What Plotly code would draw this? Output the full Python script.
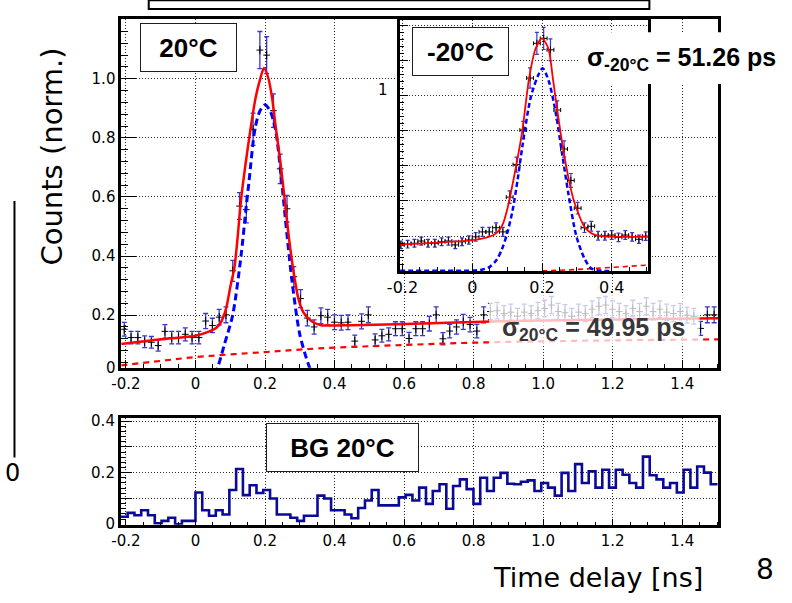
import numpy as np
import plotly.graph_objects as go

W, H = 792, 603


def px(x):
    return x / W


def py(y):
    return 1 - y / H


BIN_W = 0.0195  # ns, histogram bin width

# ---------------- main histogram (20 C), bins k = -11 .. 76 -----------------
main_bin_index = list(range(-11, 77))
main_counts = [
    0.152, 0.124, 0.124, 0.11, 0.108, 0.097, 0.145, 0.124, 0.124, 0.135, 0.124,
    0.124, 0.18, 0.165, 0.193, 0.201, 0.35, 0.569, 0.557, 0.829, 1.097, 1.08,
    0.892, 0.695, 0.56, 0.33, 0.256, 0.19,
    0.16, 0.198, 0.193, 0.176, 0.174, 0.176, 0.112, 0.179, 0.201, 0.116, 0.13,
    0.135, 0.154, 0.154, 0.121, 0.154, 0.154, 0.171, 0.201, 0.12, 0.146, 0.16,
    0.177, 0.168, 0.146, 0.201,
    0.212, 0.215, 0.205, 0.21, 0.196, 0.21, 0.205, 0.215, 0.222, 0.234, 0.212,
    0.208, 0.196, 0.21, 0.205, 0.22, 0.23, 0.234, 0.22, 0.212, 0.205, 0.222,
    0.212, 0.23, 0.212, 0.22, 0.21, 0.205, 0.212, 0.2, 0.196,
    0.155, 0.201, 0.201,
]

main_fit_x = [-0.2136, -0.1, 0.0, 0.04, 0.06, 0.075, 0.088, 0.101, 0.112, 0.121,
              0.131, 0.145, 0.159, 0.172, 0.184, 0.197, 0.21, 0.221, 0.231, 0.244,
              0.256, 0.268, 0.281, 0.296, 0.31, 0.324, 0.34, 0.362, 0.45, 0.7, 0.9,
              1.2, 1.5035]
main_fit_y = [0.102, 0.118, 0.13, 0.145, 0.157, 0.18, 0.222, 0.30, 0.36, 0.46,
              0.59, 0.72, 0.835, 0.93, 0.99, 1.036, 1.0, 0.93, 0.835, 0.72,
              0.598, 0.47, 0.355, 0.256, 0.21, 0.19, 0.175, 0.166, 0.166, 0.173,
              0.18, 0.185, 0.189]

main_gaus_x = [0.055, 0.064, 0.083, 0.107, 0.131, 0.145, 0.154, 0.171, 0.185, 0.2,
               0.215, 0.23, 0.248, 0.256, 0.277, 0.30, 0.324, 0.333, 0.34]
main_gaus_y = [0.0, 0.023, 0.10, 0.20, 0.40, 0.557, 0.652, 0.829, 0.89, 0.912,
               0.89, 0.829, 0.652, 0.557, 0.322, 0.135, 0.036, 0.01, 0.0]

main_bkg_x = [-0.2136, -0.1, 0.0, 0.2, 0.35, 0.6, 0.84, 1.1, 1.5035]
main_bkg_y = [0.03, 0.045, 0.058, 0.075, 0.087, 0.099, 0.108, 0.113, 0.118]

# ---------------- inset histogram (-20 C), bins k = -11 .. 25 ----------------
inset_bin_index = list(range(-11, 26))
inset_counts = [
    0.15, 0.154, 0.159, 0.172, 0.159, 0.159, 0.168, 0.172, 0.15, 0.168, 0.178,
    0.196, 0.224, 0.224, 0.248, 0.224, 0.422, 0.607, 0.804, 1.10, 1.298,
    1.326, 1.261, 0.918, 0.696, 0.517, 0.359, 0.248, 0.256, 0.202, 0.202,
    0.206, 0.193, 0.206, 0.196, 0.182, 0.2,
]
inset_fit_x = [-0.207, -0.1, 0.0, 0.04, 0.06, 0.075, 0.088, 0.1, 0.11, 0.128, 0.144,
               0.163, 0.182, 0.2, 0.218, 0.232, 0.245, 0.259, 0.276, 0.29, 0.304,
               0.318, 0.332, 0.35, 0.38, 0.505]
inset_fit_y = [0.152, 0.163, 0.177, 0.192, 0.205, 0.228, 0.27, 0.35, 0.44, 0.622,
               0.807, 1.10, 1.27, 1.326, 1.27, 1.085, 0.9, 0.715, 0.53, 0.41, 0.33,
               0.265, 0.23, 0.208, 0.198, 0.196]
inset_gaus_x = [-0.207, 0.0, 0.03, 0.05, 0.07, 0.085, 0.1, 0.115, 0.13, 0.144, 0.168,
                0.19, 0.202, 0.219, 0.238, 0.257, 0.276, 0.299, 0.323, 0.342, 0.37, 0.4]
inset_gaus_y = [0.003, 0.004, 0.01, 0.025, 0.065, 0.125, 0.215, 0.34, 0.52, 0.715,
                0.993, 1.12, 1.156, 1.085, 0.918, 0.678, 0.437, 0.196, 0.067, 0.015,
                0.003, 0.002]
inset_bkg_x = [0.2, 0.3, 0.4, 0.505]
inset_bkg_y = [0.002, 0.01, 0.022, 0.035]

# ---------------- background histogram (BG 20 C), bins k = -11 .. 76 ---------
bg_bin_index = list(range(-11, 77))
bg_counts = [
    0.029, 0.044, 0.035, 0.054, 0.035, 0.004, 0.013, 0.025, 0.0, 0.013, 0.013,
    0.123, 0.054, 0.033, 0.054, 0.038, 0.133, 0.214, 0.113, 0.151, 0.121,
    0.133, 0.1, 0.038, 0.038, 0.025, 0.013, 0.033, 0.033, 0.111, 0.1,
    0.054, 0.054, 0.038, 0.023, 0.063, 0.092, 0.133, 0.073, 0.073, 0.073,
    0.104, 0.114, 0.092, 0.142, 0.079, 0.129, 0.155, 0.06, 0.148, 0.174,
    0.136, 0.079, 0.18, 0.129, 0.18, 0.199, 0.157, 0.155, 0.165, 0.17,
    0.129, 0.16, 0.142, 0.111, 0.199, 0.129, 0.233, 0.16, 0.205, 0.142,
    0.211, 0.142, 0.211, 0.192, 0.16, 0.142, 0.262, 0.19, 0.174, 0.142,
    0.16, 0.123, 0.211, 0.142, 0.224, 0.2, 0.155,
]

main_x_ticks = [-0.2, 0.0, 0.2, 0.4, 0.6, 0.8, 1.0, 1.2, 1.4]
main_x_labels = ["-0.2", "0", "0.2", "0.4", "0.6", "0.8", "1.0", "1.2", "1.4"]
inset_x_ticks = [-0.2, 0.0, 0.2, 0.4]
inset_x_labels = ["-0.2", "0", "0.2", "0.4"]

# ---------------------------------------------------------------------------
main_centers = (np.array(main_bin_index) + 0.5) * BIN_W
inset_centers = (np.array(inset_bin_index) + 0.5) * BIN_W
bg_edges = np.append(np.array(bg_bin_index), bg_bin_index[-1] + 1) * BIN_W
bg_step_y = bg_counts + [bg_counts[-1]]

main_err = 0.06 * np.sqrt(np.array(main_counts))
inset_err = 0.055 * np.sqrt(np.array(inset_counts))

ERR_BLUE = "rgb(55,55,200)"
GRID = "rgb(40,40,40)"
TICKFONT = dict(family="DejaVu Sans", size=15, color="black")

fig = go.Figure()

# main
fig.add_trace(go.Scatter(
    x=main_centers, y=main_counts, mode="markers", xaxis="x", yaxis="y",
    marker=dict(symbol="line-ns", size=6, color="black", line=dict(color="black", width=1)),
    error_y=dict(type="data", array=main_err, color=ERR_BLUE, thickness=1.3, width=2.5),
    error_x=dict(type="constant", value=BIN_W / 2, color="black", thickness=1, width=0),
))
fig.add_trace(go.Scatter(x=main_bkg_x, y=main_bkg_y, mode="lines", xaxis="x", yaxis="y",
                         line=dict(color="red", width=2.2, dash="6px,5px", shape="spline")))
fig.add_trace(go.Scatter(x=main_gaus_x, y=main_gaus_y, mode="lines", xaxis="x", yaxis="y",
                         line=dict(color="rgb(0,0,255)", width=3, dash="7px,4px",
                                   shape="spline", smoothing=0.8)))
fig.add_trace(go.Scatter(x=main_fit_x, y=main_fit_y, mode="lines", xaxis="x", yaxis="y",
                         line=dict(color="red", width=2.5, shape="spline", smoothing=0.7)))

# inset
fig.add_trace(go.Scatter(
    x=inset_centers, y=inset_counts, mode="markers", xaxis="x2", yaxis="y2",
    marker=dict(symbol="line-ns", size=5, color="black", line=dict(color="black", width=1)),
    error_y=dict(type="data", array=inset_err, color=ERR_BLUE, thickness=1.2, width=2),
    error_x=dict(type="constant", value=BIN_W / 2, color="black", thickness=1, width=2),
))
fig.add_trace(go.Scatter(x=inset_bkg_x, y=inset_bkg_y, mode="lines", xaxis="x2", yaxis="y2",
                         line=dict(color="red", width=1.6, dash="5px,4px", shape="spline")))
fig.add_trace(go.Scatter(x=inset_gaus_x, y=inset_gaus_y, mode="lines", xaxis="x2", yaxis="y2",
                         line=dict(color="rgb(0,0,255)", width=2.5, dash="5px,3px",
                                   shape="spline", smoothing=0.8)))
fig.add_trace(go.Scatter(x=inset_fit_x, y=inset_fit_y, mode="lines", xaxis="x2", yaxis="y2",
                         line=dict(color="red", width=1.8, shape="spline", smoothing=0.7)))

# BG histogram
fig.add_trace(go.Scatter(x=bg_edges, y=bg_step_y, mode="lines", xaxis="x3", yaxis="y3",
                         line=dict(color="rgb(10,10,150)", width=2.6, shape="hv")))


def frame_axis(**kw):
    d = dict(showline=True, linewidth=2.5, linecolor="black", mirror=True, zeroline=False,
             ticks="inside", tickcolor="black", tickwidth=1, showgrid=True,
             gridcolor=GRID, griddash="1px,2px", gridwidth=1, tickfont=TICKFONT)
    d.update(kw)
    return d


fig.update_layout(
    width=W, height=H, margin=dict(l=0, r=0, t=0, b=0),
    paper_bgcolor="white", plot_bgcolor="white", showlegend=False,
    xaxis=frame_axis(domain=[px(110), px(717)], range=[-0.2136, 1.5035], anchor="y",
                     tickmode="array", tickvals=main_x_ticks, ticktext=main_x_labels,
                     ticklen=8,
                     minor=dict(tickmode="linear", tick0=0, dtick=0.05, ticks="inside",
                                ticklen=4, tickcolor="black", showgrid=False)),
    yaxis=frame_axis(domain=[py(371), py(13)], range=[0.0218, 1.2033], anchor="x",
                     tickmode="array", tickvals=[0.0218, 0.2, 0.4, 0.6, 0.8, 1.0],
                     ticktext=["0", "0.2", "0.4", "0.6", "0.8", "1.0"], ticklen=15,
                     minor=dict(tickmode="linear", tick0=0, dtick=0.04, ticks="inside",
                                ticklen=7, tickcolor="black", showgrid=False)),
    xaxis2=frame_axis(domain=[px(393.5), px(646)], range=[-0.207, 0.505], anchor="y2",
                      tickmode="array", tickvals=inset_x_ticks, ticktext=inset_x_labels,
                      ticklen=7, tickfont=dict(family="DejaVu Sans", size=16, color="black"),
                      minor=dict(tickmode="linear", tick0=0, dtick=0.05, ticks="inside",
                                 ticklen=4, tickcolor="black", showgrid=False)),
    yaxis2=frame_axis(domain=[py(272), py(14.5)], range=[0, 1.43], anchor="x2",
                      tickmode="linear", tick0=0, dtick=0.2, ticklen=8,
                      showticklabels=False,
                      minor=dict(tickmode="linear", tick0=0, dtick=0.04, ticks="inside",
                                 ticklen=4, tickcolor="black", showgrid=False)),
    xaxis3=frame_axis(domain=[px(109.5), px(717)], range=[-0.215, 1.5035], anchor="y3",
                      tickmode="array", tickvals=main_x_ticks, ticktext=main_x_labels,
                      ticklen=6,
                      minor=dict(tickmode="linear", tick0=0, dtick=0.05, ticks="inside",
                                 ticklen=3, tickcolor="black", showgrid=False)),
    yaxis3=frame_axis(domain=[py(532), py(423)], range=[-0.002, 0.41], anchor="x3",
                      tickmode="array", tickvals=[0, 0.1, 0.2, 0.3, 0.4],
                      ticktext=["0", "", "0.2", "", "0.4"], ticklen=12,
                      minor=dict(tickmode="linear", tick0=0, dtick=0.02, ticks="inside",
                                 ticklen=6, tickcolor="black", showgrid=False)),
)

shapes = [
    # leftover slide frames
    dict(type="rect", xref="paper", yref="paper", x0=px(138), x1=px(647), y0=py(3), y1=py(-6),
         line=dict(color="black", width=2), fillcolor="rgba(0,0,0,0)", layer="above"),
    dict(type="line", xref="paper", yref="paper", x0=px(1.5), x1=px(1.5), y0=py(463), y1=py(200),
         line=dict(color="black", width=2), layer="above"),
    # white label box for sigma(-20C)
    dict(type="rect", xref="paper", yref="paper", x0=px(575), x1=px(795), y0=py(80), y1=py(27),
         line=dict(width=0), fillcolor="white", layer="above"),
    # semi-transparent box for sigma(20C)
    dict(type="rect", xref="paper", yref="paper", x0=px(484), x1=px(698), y0=py(348), y1=py(296),
         line=dict(width=0), fillcolor="rgba(255,255,255,0.74)", layer="above"),
]
fig.update_layout(shapes=shapes)

BOLD = dict(family="Liberation Sans", size=26, color="black")
ann = [
    dict(text="Counts (norm.)", x=px(40), y=py(154), textangle=-90,
         font=dict(family="DejaVu Sans", size=29, color="black")),
    dict(text="Time delay [ns]", x=px(595), y=py(586),
         font=dict(family="DejaVu Sans", size=27, color="black")),
    dict(text="8", x=px(765), y=py(578), font=dict(family="DejaVu Sans", size=28, color="black")),
    dict(text="<b>20°C</b>", x=px(178.5), y=py(42.5), width=95, height=47, borderpad=0,
         bgcolor="white", bordercolor="rgb(30,30,30)", borderwidth=1, font=BOLD),
    dict(text="<b>-20°C</b>", x=px(454.5), y=py(46.5), width=95, height=47, borderpad=0,
         bgcolor="white", bordercolor="rgb(30,30,30)", borderwidth=1, font=BOLD),
    dict(text="<b>BG 20°C</b>", x=px(335.5), y=py(452.5), width=151, height=47, borderpad=0,
         bgcolor="white", bordercolor="rgb(30,30,30)", borderwidth=1, font=BOLD),
    dict(text="<b>σ<sub>-20°C</sub> = 51.26 ps</b>", x=px(680), y=py(54),
         font=dict(family="Liberation Sans", size=25, color="black")),
    dict(text="<b>σ<sub>20°C</sub> = 49.95 ps</b>", x=px(590), y=py(331),
         font=dict(family="Liberation Sans", size=25, color="rgb(55,55,55)")),
    dict(text="1", x=px(376), y=py(86), font=TICKFONT),
    dict(text="0", x=px(9), y=py(479), xanchor="right",
         font=dict(family="DejaVu Sans", size=24, color="black")),
]
for a in ann:
    a.setdefault("xref", "paper")
    a.setdefault("yref", "paper")
    a.setdefault("showarrow", False)
    a.setdefault("xanchor", "center")
    a.setdefault("yanchor", "middle")
fig.update_layout(annotations=ann)

fig.write_html("out.html")
